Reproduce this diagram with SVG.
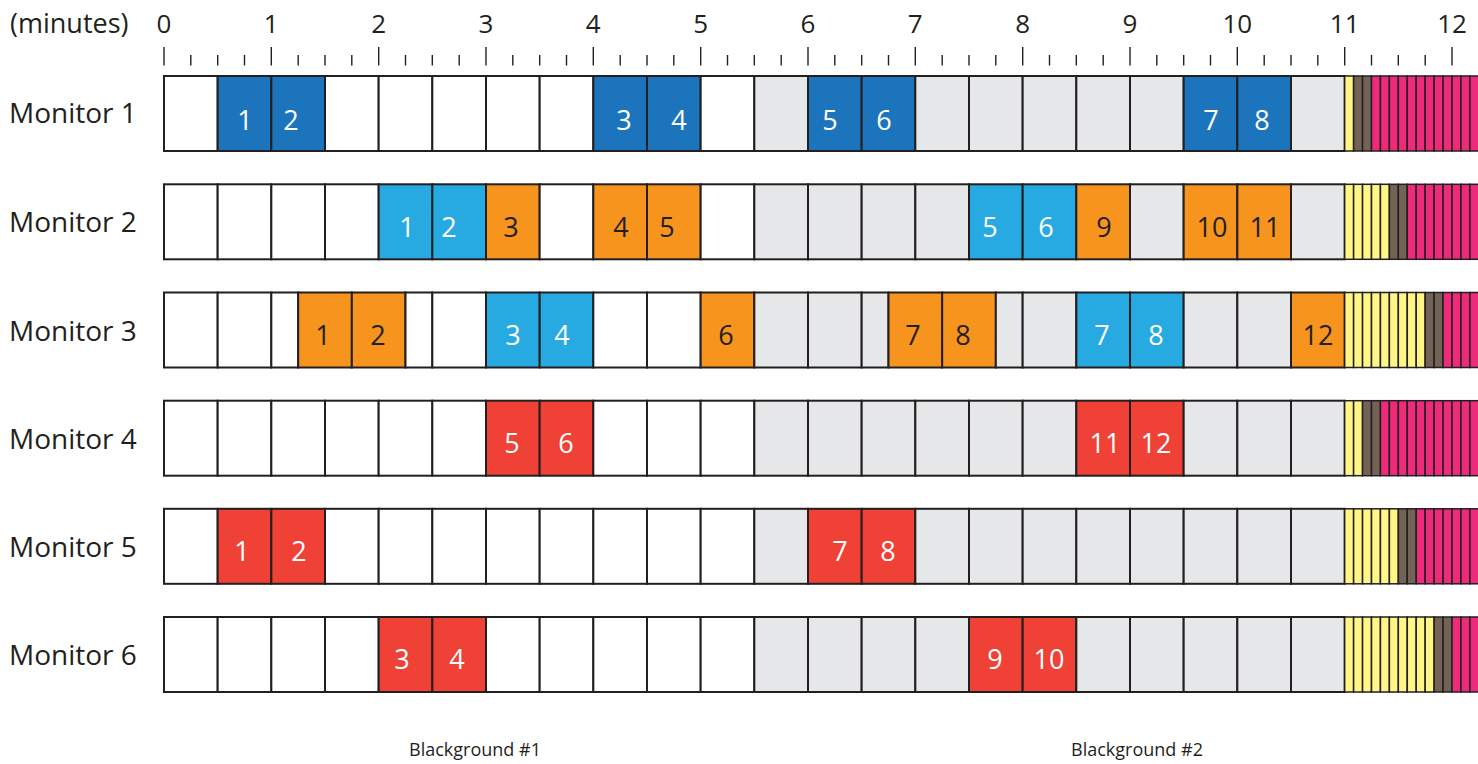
<svg xmlns="http://www.w3.org/2000/svg" width="1478" height="764" viewBox="0 0 1478 764">
<style>
rect{stroke:#231f20;stroke-width:2}
.w{fill:#ffffff}.g{fill:#e6e7e8}.db{fill:#1c75bc}.lb{fill:#27aae1}.or{fill:#f7941d}.rd{fill:#ef4136}
.y{fill:#fff685;stroke-width:1.5}.br{fill:#736357;stroke-width:1.5}.pk{fill:#ee2a7b;stroke-width:1.5}
text{font-family:"Open Sans","Noto Sans","Liberation Sans",sans-serif}
.lbl{font-size:28px;fill:#231f20}
.ax{font-size:26px;fill:#231f20;text-anchor:middle}
.n{font-size:27px;text-anchor:middle}
.nw{fill:#ffffff}.nk{fill:#231f20}
.bg{font-size:18px;fill:#231f20;text-anchor:middle}
.tk line{stroke:#231f20;stroke-width:1.4}
</style>
<g id="axis">
<text x="10" y="33" class="lbl" style="font-size:27px">(minutes)</text>
<text x="164" y="33" class="ax">0</text>
<text x="271.3" y="33" class="ax">1</text>
<text x="378.7" y="33" class="ax">2</text>
<text x="486" y="33" class="ax">3</text>
<text x="593.3" y="33" class="ax">4</text>
<text x="700.7" y="33" class="ax">5</text>
<text x="808" y="33" class="ax">6</text>
<text x="915.3" y="33" class="ax">7</text>
<text x="1022.7" y="33" class="ax">8</text>
<text x="1130" y="33" class="ax">9</text>
<text x="1237.3" y="33" class="ax">10</text>
<text x="1344.7" y="33" class="ax">11</text>
<text x="1452" y="33" class="ax">12</text>
<g class="tk">
<line x1="164" y1="47" x2="164" y2="65.5"/><line x1="190.8" y1="55" x2="190.8" y2="65.5"/><line x1="217.7" y1="55" x2="217.7" y2="65.5"/><line x1="244.5" y1="55" x2="244.5" y2="65.5"/>
<line x1="271.3" y1="47" x2="271.3" y2="65.5"/><line x1="298.2" y1="55" x2="298.2" y2="65.5"/><line x1="325" y1="55" x2="325" y2="65.5"/><line x1="351.8" y1="55" x2="351.8" y2="65.5"/>
<line x1="378.7" y1="47" x2="378.7" y2="65.5"/><line x1="405.5" y1="55" x2="405.5" y2="65.5"/><line x1="432.3" y1="55" x2="432.3" y2="65.5"/><line x1="459.2" y1="55" x2="459.2" y2="65.5"/>
<line x1="486" y1="47" x2="486" y2="65.5"/><line x1="512.8" y1="55" x2="512.8" y2="65.5"/><line x1="539.7" y1="55" x2="539.7" y2="65.5"/><line x1="566.5" y1="55" x2="566.5" y2="65.5"/>
<line x1="593.3" y1="47" x2="593.3" y2="65.5"/><line x1="620.2" y1="55" x2="620.2" y2="65.5"/><line x1="647" y1="55" x2="647" y2="65.5"/><line x1="673.8" y1="55" x2="673.8" y2="65.5"/>
<line x1="700.7" y1="47" x2="700.7" y2="65.5"/><line x1="727.5" y1="55" x2="727.5" y2="65.5"/><line x1="754.3" y1="55" x2="754.3" y2="65.5"/><line x1="781.2" y1="55" x2="781.2" y2="65.5"/>
<line x1="808" y1="47" x2="808" y2="65.5"/><line x1="834.8" y1="55" x2="834.8" y2="65.5"/><line x1="861.7" y1="55" x2="861.7" y2="65.5"/><line x1="888.5" y1="55" x2="888.5" y2="65.5"/>
<line x1="915.3" y1="47" x2="915.3" y2="65.5"/><line x1="942.2" y1="55" x2="942.2" y2="65.5"/><line x1="969" y1="55" x2="969" y2="65.5"/><line x1="995.8" y1="55" x2="995.8" y2="65.5"/>
<line x1="1022.7" y1="47" x2="1022.7" y2="65.5"/><line x1="1049.5" y1="55" x2="1049.5" y2="65.5"/><line x1="1076.3" y1="55" x2="1076.3" y2="65.5"/><line x1="1103.2" y1="55" x2="1103.2" y2="65.5"/>
<line x1="1130" y1="47" x2="1130" y2="65.5"/><line x1="1156.8" y1="55" x2="1156.8" y2="65.5"/><line x1="1183.7" y1="55" x2="1183.7" y2="65.5"/><line x1="1210.5" y1="55" x2="1210.5" y2="65.5"/>
<line x1="1237.3" y1="47" x2="1237.3" y2="65.5"/><line x1="1264.2" y1="55" x2="1264.2" y2="65.5"/><line x1="1291" y1="55" x2="1291" y2="65.5"/><line x1="1317.8" y1="55" x2="1317.8" y2="65.5"/>
<line x1="1344.7" y1="47" x2="1344.7" y2="65.5"/><line x1="1371.5" y1="55" x2="1371.5" y2="65.5"/><line x1="1398.3" y1="55" x2="1398.3" y2="65.5"/><line x1="1425.2" y1="55" x2="1425.2" y2="65.5"/>
<line x1="1452" y1="47" x2="1452" y2="65.5"/>
</g>
</g>

<g id="monitor1" transform="translate(0,76)">
<text x="9" y="47" class="lbl">Monitor 1</text>
<rect class="w" x="164" y="0" width="53.67" height="75"/>
<rect class="db" x="217.67" y="0" width="53.67" height="75"/>
<rect class="db" x="271.33" y="0" width="53.67" height="75"/>
<rect class="w" x="325" y="0" width="53.67" height="75"/>
<rect class="w" x="378.67" y="0" width="53.67" height="75"/>
<rect class="w" x="432.33" y="0" width="53.67" height="75"/>
<rect class="w" x="486" y="0" width="53.67" height="75"/>
<rect class="w" x="539.67" y="0" width="53.67" height="75"/>
<rect class="db" x="593.33" y="0" width="53.67" height="75"/>
<rect class="db" x="647" y="0" width="53.67" height="75"/>
<rect class="w" x="700.67" y="0" width="53.67" height="75"/>
<rect class="g" x="754.33" y="0" width="53.67" height="75"/>
<rect class="db" x="808" y="0" width="53.67" height="75"/>
<rect class="db" x="861.67" y="0" width="53.67" height="75"/>
<rect class="g" x="915.33" y="0" width="53.67" height="75"/>
<rect class="g" x="969" y="0" width="53.67" height="75"/>
<rect class="g" x="1022.67" y="0" width="53.67" height="75"/>
<rect class="g" x="1076.33" y="0" width="53.67" height="75"/>
<rect class="g" x="1130" y="0" width="53.67" height="75"/>
<rect class="db" x="1183.67" y="0" width="53.67" height="75"/>
<rect class="db" x="1237.33" y="0" width="53.67" height="75"/>
<rect class="g" x="1291" y="0" width="53.67" height="75"/>
<rect class="y" x="1344.67" y="0" width="8.94" height="75"/>
<rect class="br" x="1353.61" y="0" width="8.94" height="75"/>
<rect class="br" x="1362.56" y="0" width="8.94" height="75"/>
<rect class="pk" x="1371.5" y="0" width="8.94" height="75"/>
<rect class="pk" x="1380.44" y="0" width="8.94" height="75"/>
<rect class="pk" x="1389.39" y="0" width="8.94" height="75"/>
<rect class="pk" x="1398.33" y="0" width="8.94" height="75"/>
<rect class="pk" x="1407.28" y="0" width="8.94" height="75"/>
<rect class="pk" x="1416.22" y="0" width="8.94" height="75"/>
<rect class="pk" x="1425.17" y="0" width="8.94" height="75"/>
<rect class="pk" x="1434.11" y="0" width="8.94" height="75"/>
<rect class="pk" x="1443.06" y="0" width="8.94" height="75"/>
<rect class="pk" x="1452" y="0" width="8.94" height="75"/>
<rect class="pk" x="1460.94" y="0" width="8.94" height="75"/>
<rect class="pk" x="1469.89" y="0" width="8.94" height="75"/>
<text x="245" y="54" class="n nw">1</text>
<text x="291" y="54" class="n nw">2</text>
<text x="624" y="54" class="n nw">3</text>
<text x="679" y="54" class="n nw">4</text>
<text x="830" y="54" class="n nw">5</text>
<text x="884" y="54" class="n nw">6</text>
<text x="1211" y="54" class="n nw">7</text>
<text x="1262" y="54" class="n nw">8</text>
</g>

<g id="monitor2" transform="translate(0,184.3)">
<text x="9" y="48" class="lbl">Monitor 2</text>
<rect class="w" x="164" y="0" width="53.67" height="75"/>
<rect class="w" x="217.67" y="0" width="53.67" height="75"/>
<rect class="w" x="271.33" y="0" width="53.67" height="75"/>
<rect class="w" x="325" y="0" width="53.67" height="75"/>
<rect class="lb" x="378.67" y="0" width="53.67" height="75"/>
<rect class="lb" x="432.33" y="0" width="53.67" height="75"/>
<rect class="or" x="486" y="0" width="53.67" height="75"/>
<rect class="w" x="539.67" y="0" width="53.67" height="75"/>
<rect class="or" x="593.33" y="0" width="53.67" height="75"/>
<rect class="or" x="647" y="0" width="53.67" height="75"/>
<rect class="w" x="700.67" y="0" width="53.67" height="75"/>
<rect class="g" x="754.33" y="0" width="53.67" height="75"/>
<rect class="g" x="808" y="0" width="53.67" height="75"/>
<rect class="g" x="861.67" y="0" width="53.67" height="75"/>
<rect class="g" x="915.33" y="0" width="53.67" height="75"/>
<rect class="lb" x="969" y="0" width="53.67" height="75"/>
<rect class="lb" x="1022.67" y="0" width="53.67" height="75"/>
<rect class="or" x="1076.33" y="0" width="53.67" height="75"/>
<rect class="g" x="1130" y="0" width="53.67" height="75"/>
<rect class="or" x="1183.67" y="0" width="53.67" height="75"/>
<rect class="or" x="1237.33" y="0" width="53.67" height="75"/>
<rect class="g" x="1291" y="0" width="53.67" height="75"/>
<rect class="y" x="1344.67" y="0" width="8.94" height="75"/>
<rect class="y" x="1353.61" y="0" width="8.94" height="75"/>
<rect class="y" x="1362.56" y="0" width="8.94" height="75"/>
<rect class="y" x="1371.5" y="0" width="8.94" height="75"/>
<rect class="y" x="1380.44" y="0" width="8.94" height="75"/>
<rect class="br" x="1389.39" y="0" width="8.94" height="75"/>
<rect class="br" x="1398.33" y="0" width="8.94" height="75"/>
<rect class="pk" x="1407.28" y="0" width="8.94" height="75"/>
<rect class="pk" x="1416.22" y="0" width="8.94" height="75"/>
<rect class="pk" x="1425.17" y="0" width="8.94" height="75"/>
<rect class="pk" x="1434.11" y="0" width="8.94" height="75"/>
<rect class="pk" x="1443.06" y="0" width="8.94" height="75"/>
<rect class="pk" x="1452" y="0" width="8.94" height="75"/>
<rect class="pk" x="1460.94" y="0" width="8.94" height="75"/>
<rect class="pk" x="1469.89" y="0" width="8.94" height="75"/>
<text x="407" y="53" class="n nw">1</text>
<text x="449" y="53" class="n nw">2</text>
<text x="511" y="53" class="n nk">3</text>
<text x="621" y="53" class="n nk">4</text>
<text x="667" y="53" class="n nk">5</text>
<text x="990" y="53" class="n nw">5</text>
<text x="1046" y="53" class="n nw">6</text>
<text x="1104" y="53" class="n nk">9</text>
<text x="1212" y="53" class="n nk">10</text>
<text x="1265" y="53" class="n nk">11</text>
</g>

<g id="monitor3" transform="translate(0,292.5)">
<text x="9" y="48" class="lbl">Monitor 3</text>
<rect class="w" x="164" y="0" width="53.67" height="75"/>
<rect class="w" x="217.67" y="0" width="53.67" height="75"/>
<rect class="w" x="271.33" y="0" width="26.84" height="75"/>
<rect class="or" x="298.17" y="0" width="53.67" height="75"/>
<rect class="or" x="351.83" y="0" width="53.67" height="75"/>
<rect class="w" x="405.5" y="0" width="26.83" height="75"/>
<rect class="w" x="432.33" y="0" width="53.67" height="75"/>
<rect class="lb" x="486" y="0" width="53.67" height="75"/>
<rect class="lb" x="539.67" y="0" width="53.67" height="75"/>
<rect class="w" x="593.33" y="0" width="53.67" height="75"/>
<rect class="w" x="647" y="0" width="53.67" height="75"/>
<rect class="or" x="700.67" y="0" width="53.67" height="75"/>
<rect class="g" x="754.33" y="0" width="53.67" height="75"/>
<rect class="g" x="808" y="0" width="53.67" height="75"/>
<rect class="g" x="861.67" y="0" width="26.83" height="75"/>
<rect class="or" x="888.5" y="0" width="53.67" height="75"/>
<rect class="or" x="942.17" y="0" width="53.67" height="75"/>
<rect class="g" x="995.83" y="0" width="26.84" height="75"/>
<rect class="g" x="1022.67" y="0" width="53.67" height="75"/>
<rect class="lb" x="1076.33" y="0" width="53.67" height="75"/>
<rect class="lb" x="1130" y="0" width="53.67" height="75"/>
<rect class="g" x="1183.67" y="0" width="53.67" height="75"/>
<rect class="g" x="1237.33" y="0" width="53.67" height="75"/>
<rect class="or" x="1291" y="0" width="53.67" height="75"/>
<rect class="y" x="1344.67" y="0" width="8.94" height="75"/>
<rect class="y" x="1353.61" y="0" width="8.94" height="75"/>
<rect class="y" x="1362.56" y="0" width="8.94" height="75"/>
<rect class="y" x="1371.5" y="0" width="8.94" height="75"/>
<rect class="y" x="1380.44" y="0" width="8.94" height="75"/>
<rect class="y" x="1389.39" y="0" width="8.94" height="75"/>
<rect class="y" x="1398.33" y="0" width="8.94" height="75"/>
<rect class="y" x="1407.28" y="0" width="8.94" height="75"/>
<rect class="y" x="1416.22" y="0" width="8.94" height="75"/>
<rect class="br" x="1425.17" y="0" width="8.94" height="75"/>
<rect class="br" x="1434.11" y="0" width="8.94" height="75"/>
<rect class="pk" x="1443.06" y="0" width="8.94" height="75"/>
<rect class="pk" x="1452" y="0" width="8.94" height="75"/>
<rect class="pk" x="1460.94" y="0" width="8.94" height="75"/>
<rect class="pk" x="1469.89" y="0" width="8.94" height="75"/>
<text x="323" y="52" class="n nk">1</text>
<text x="378" y="52" class="n nk">2</text>
<text x="513" y="52" class="n nw">3</text>
<text x="562" y="52" class="n nw">4</text>
<text x="726" y="52" class="n nk">6</text>
<text x="913" y="52" class="n nk">7</text>
<text x="963" y="52" class="n nk">8</text>
<text x="1102" y="52" class="n nw">7</text>
<text x="1156" y="52" class="n nw">8</text>
<text x="1318" y="52" class="n nk">12</text>
</g>

<g id="monitor4" transform="translate(0,400.7)">
<text x="9" y="48" class="lbl">Monitor 4</text>
<rect class="w" x="164" y="0" width="53.67" height="75"/>
<rect class="w" x="217.67" y="0" width="53.67" height="75"/>
<rect class="w" x="271.33" y="0" width="53.67" height="75"/>
<rect class="w" x="325" y="0" width="53.67" height="75"/>
<rect class="w" x="378.67" y="0" width="53.67" height="75"/>
<rect class="w" x="432.33" y="0" width="53.67" height="75"/>
<rect class="rd" x="486" y="0" width="53.67" height="75"/>
<rect class="rd" x="539.67" y="0" width="53.67" height="75"/>
<rect class="w" x="593.33" y="0" width="53.67" height="75"/>
<rect class="w" x="647" y="0" width="53.67" height="75"/>
<rect class="w" x="700.67" y="0" width="53.67" height="75"/>
<rect class="g" x="754.33" y="0" width="53.67" height="75"/>
<rect class="g" x="808" y="0" width="53.67" height="75"/>
<rect class="g" x="861.67" y="0" width="53.67" height="75"/>
<rect class="g" x="915.33" y="0" width="53.67" height="75"/>
<rect class="g" x="969" y="0" width="53.67" height="75"/>
<rect class="g" x="1022.67" y="0" width="53.67" height="75"/>
<rect class="rd" x="1076.33" y="0" width="53.67" height="75"/>
<rect class="rd" x="1130" y="0" width="53.67" height="75"/>
<rect class="g" x="1183.67" y="0" width="53.67" height="75"/>
<rect class="g" x="1237.33" y="0" width="53.67" height="75"/>
<rect class="g" x="1291" y="0" width="53.67" height="75"/>
<rect class="y" x="1344.67" y="0" width="8.94" height="75"/>
<rect class="y" x="1353.61" y="0" width="8.94" height="75"/>
<rect class="br" x="1362.56" y="0" width="8.94" height="75"/>
<rect class="br" x="1371.5" y="0" width="8.94" height="75"/>
<rect class="pk" x="1380.44" y="0" width="8.94" height="75"/>
<rect class="pk" x="1389.39" y="0" width="8.94" height="75"/>
<rect class="pk" x="1398.33" y="0" width="8.94" height="75"/>
<rect class="pk" x="1407.28" y="0" width="8.94" height="75"/>
<rect class="pk" x="1416.22" y="0" width="8.94" height="75"/>
<rect class="pk" x="1425.17" y="0" width="8.94" height="75"/>
<rect class="pk" x="1434.11" y="0" width="8.94" height="75"/>
<rect class="pk" x="1443.06" y="0" width="8.94" height="75"/>
<rect class="pk" x="1452" y="0" width="8.94" height="75"/>
<rect class="pk" x="1460.94" y="0" width="8.94" height="75"/>
<rect class="pk" x="1469.89" y="0" width="8.94" height="75"/>
<text x="512" y="52" class="n nw">5</text>
<text x="566" y="52" class="n nw">6</text>
<text x="1105" y="52" class="n nw">11</text>
<text x="1156" y="52" class="n nw">12</text>
</g>

<g id="monitor5" transform="translate(0,508.8)">
<text x="9" y="48" class="lbl">Monitor 5</text>
<rect class="w" x="164" y="0" width="53.67" height="75"/>
<rect class="rd" x="217.67" y="0" width="53.67" height="75"/>
<rect class="rd" x="271.33" y="0" width="53.67" height="75"/>
<rect class="w" x="325" y="0" width="53.67" height="75"/>
<rect class="w" x="378.67" y="0" width="53.67" height="75"/>
<rect class="w" x="432.33" y="0" width="53.67" height="75"/>
<rect class="w" x="486" y="0" width="53.67" height="75"/>
<rect class="w" x="539.67" y="0" width="53.67" height="75"/>
<rect class="w" x="593.33" y="0" width="53.67" height="75"/>
<rect class="w" x="647" y="0" width="53.67" height="75"/>
<rect class="w" x="700.67" y="0" width="53.67" height="75"/>
<rect class="g" x="754.33" y="0" width="53.67" height="75"/>
<rect class="rd" x="808" y="0" width="53.67" height="75"/>
<rect class="rd" x="861.67" y="0" width="53.67" height="75"/>
<rect class="g" x="915.33" y="0" width="53.67" height="75"/>
<rect class="g" x="969" y="0" width="53.67" height="75"/>
<rect class="g" x="1022.67" y="0" width="53.67" height="75"/>
<rect class="g" x="1076.33" y="0" width="53.67" height="75"/>
<rect class="g" x="1130" y="0" width="53.67" height="75"/>
<rect class="g" x="1183.67" y="0" width="53.67" height="75"/>
<rect class="g" x="1237.33" y="0" width="53.67" height="75"/>
<rect class="g" x="1291" y="0" width="53.67" height="75"/>
<rect class="y" x="1344.67" y="0" width="8.94" height="75"/>
<rect class="y" x="1353.61" y="0" width="8.94" height="75"/>
<rect class="y" x="1362.56" y="0" width="8.94" height="75"/>
<rect class="y" x="1371.5" y="0" width="8.94" height="75"/>
<rect class="y" x="1380.44" y="0" width="8.94" height="75"/>
<rect class="y" x="1389.39" y="0" width="8.94" height="75"/>
<rect class="br" x="1398.33" y="0" width="8.94" height="75"/>
<rect class="br" x="1407.28" y="0" width="8.94" height="75"/>
<rect class="pk" x="1416.22" y="0" width="8.94" height="75"/>
<rect class="pk" x="1425.17" y="0" width="8.94" height="75"/>
<rect class="pk" x="1434.11" y="0" width="8.94" height="75"/>
<rect class="pk" x="1443.06" y="0" width="8.94" height="75"/>
<rect class="pk" x="1452" y="0" width="8.94" height="75"/>
<rect class="pk" x="1460.94" y="0" width="8.94" height="75"/>
<rect class="pk" x="1469.89" y="0" width="8.94" height="75"/>
<text x="242" y="52" class="n nw">1</text>
<text x="299" y="52" class="n nw">2</text>
<text x="840" y="52" class="n nw">7</text>
<text x="888" y="52" class="n nw">8</text>
</g>

<g id="monitor6" transform="translate(0,617)">
<text x="9" y="48" class="lbl">Monitor 6</text>
<rect class="w" x="164" y="0" width="53.67" height="75"/>
<rect class="w" x="217.67" y="0" width="53.67" height="75"/>
<rect class="w" x="271.33" y="0" width="53.67" height="75"/>
<rect class="w" x="325" y="0" width="53.67" height="75"/>
<rect class="rd" x="378.67" y="0" width="53.67" height="75"/>
<rect class="rd" x="432.33" y="0" width="53.67" height="75"/>
<rect class="w" x="486" y="0" width="53.67" height="75"/>
<rect class="w" x="539.67" y="0" width="53.67" height="75"/>
<rect class="w" x="593.33" y="0" width="53.67" height="75"/>
<rect class="w" x="647" y="0" width="53.67" height="75"/>
<rect class="w" x="700.67" y="0" width="53.67" height="75"/>
<rect class="g" x="754.33" y="0" width="53.67" height="75"/>
<rect class="g" x="808" y="0" width="53.67" height="75"/>
<rect class="g" x="861.67" y="0" width="53.67" height="75"/>
<rect class="g" x="915.33" y="0" width="53.67" height="75"/>
<rect class="rd" x="969" y="0" width="53.67" height="75"/>
<rect class="rd" x="1022.67" y="0" width="53.67" height="75"/>
<rect class="g" x="1076.33" y="0" width="53.67" height="75"/>
<rect class="g" x="1130" y="0" width="53.67" height="75"/>
<rect class="g" x="1183.67" y="0" width="53.67" height="75"/>
<rect class="g" x="1237.33" y="0" width="53.67" height="75"/>
<rect class="g" x="1291" y="0" width="53.67" height="75"/>
<rect class="y" x="1344.67" y="0" width="8.94" height="75"/>
<rect class="y" x="1353.61" y="0" width="8.94" height="75"/>
<rect class="y" x="1362.56" y="0" width="8.94" height="75"/>
<rect class="y" x="1371.5" y="0" width="8.94" height="75"/>
<rect class="y" x="1380.44" y="0" width="8.94" height="75"/>
<rect class="y" x="1389.39" y="0" width="8.94" height="75"/>
<rect class="y" x="1398.33" y="0" width="8.94" height="75"/>
<rect class="y" x="1407.28" y="0" width="8.94" height="75"/>
<rect class="y" x="1416.22" y="0" width="8.94" height="75"/>
<rect class="y" x="1425.17" y="0" width="8.94" height="75"/>
<rect class="br" x="1434.11" y="0" width="8.94" height="75"/>
<rect class="br" x="1443.06" y="0" width="8.94" height="75"/>
<rect class="pk" x="1452" y="0" width="8.94" height="75"/>
<rect class="pk" x="1460.94" y="0" width="8.94" height="75"/>
<rect class="pk" x="1469.89" y="0" width="8.94" height="75"/>
<text x="402" y="52" class="n nw">3</text>
<text x="457" y="52" class="n nw">4</text>
<text x="995" y="52" class="n nw">9</text>
<text x="1049" y="52" class="n nw">10</text>
</g>

<g id="labels">
<text x="475" y="756" class="bg">Blackground #1</text>
<text x="1137" y="756" class="bg">Blackground #2</text>
</g>
<g id="connectors"/>
</svg>
